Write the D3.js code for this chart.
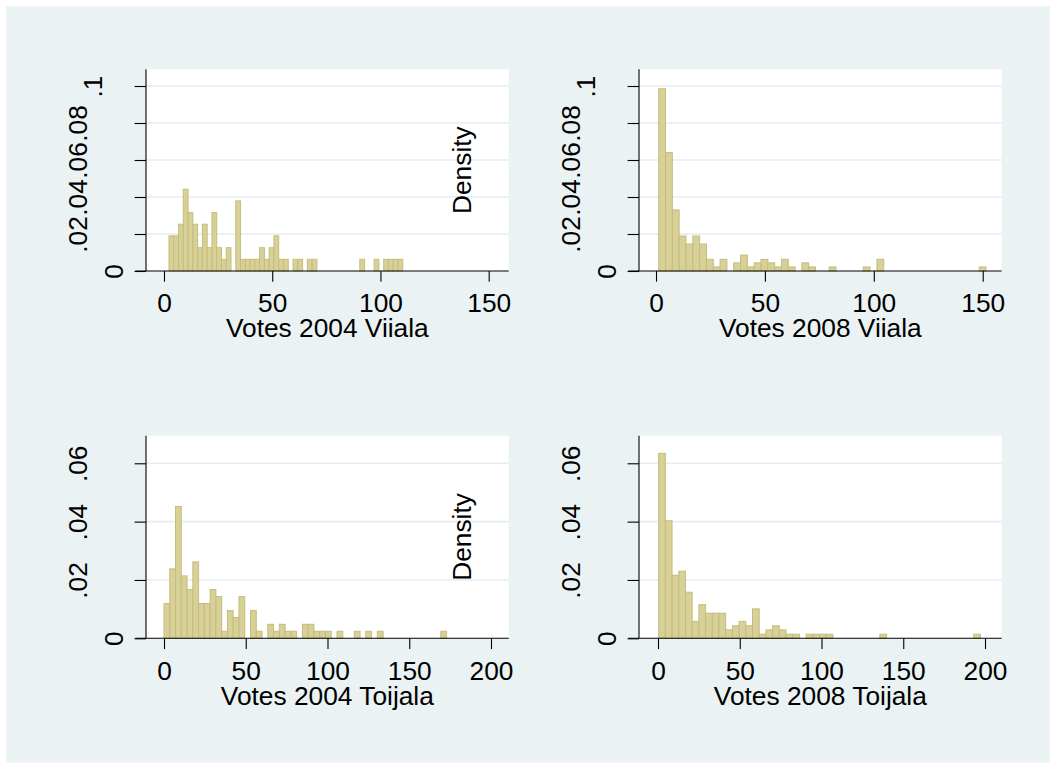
<!DOCTYPE html>
<html>
<head>
<meta charset="utf-8">
<script src="https://cdnjs.cloudflare.com/ajax/libs/d3/7.8.5/d3.min.js"></script>
<style>
  body { margin: 0; background: #ffffff; }
  text { font-family: "Liberation Sans", Arial, sans-serif; }
</style>
</head>
<body>
<div id="chart"></div>
<script>
// Histograms of votes per candidate, Viiala and Toijala, 2004 and 2008

// tick values and their labels
var xTicksViiala = [0, 50, 100, 150];
var xTicksToijala = [0, 50, 100, 150, 200];
var yTicksViiala = [0, 0.02, 0.04, 0.06, 0.08, 0.1];
var yLabelsViiala = ["0", ".02", ".04", ".06", ".08", ".1"];
var yTicksToijala = [0, 0.02, 0.04, 0.06];
var yLabelsToijala = ["0", ".02", ".04", ".06"];

var xTitles = ["Votes 2004 Viiala", "Votes 2008 Viiala", "Votes 2004 Toijala", "Votes 2008 Toijala"];
var yTitle = "Density";

// bins: first lower edge, bin width, density of each bin
var binStart2004V = 2.31, binWidth2004V = 2.204;
var density2004V = [.019,.019,.0253,.0442,.0316,.0253,.0126,.0253,.0126,.0316,.0126,.0063,.0126,0,.0379,
  .0063,.0063,.0063,.0063,.0126,.0063,.0126,.019,.0063,.0063,0,.0063,.0063,0,.0063,.0063,
  0,0,0,0,0,0,0,0,0,.0063,0,0,.0063,0,.0063,.0063,.0063,.0063];

var binStart2008V = 1.24, binWidth2008V = 3.131;
var density2008V = [.0985,.064,.033,.0189,.0146,.0189,.0146,.0063,.0022,.0063,
  0,.0044,.0086,.0022,.0044,.0063,.0044,.0022,.0063,.0022,
  0,.0044,.0022,0,0,.0022,0,0,0,0,.0022,0,.0063,
  0,0,0,0,0,0,0,0,0,0,0,0,0,0,.0022];

var binStart2004T = 0, binWidth2004T = 3.527;
var density2004T = [.0119,.0238,.0452,.0214,.0167,.0262,.0119,.0119,.0167,.0143,.0024,.0095,.0071,.0143,0,
  .0095,.0024,0,.0048,.0024,.0048,.0024,.0024,0,.0048,.0048,.0024,.0024,.0024,0,.0024,0,0,.0024,0,.0024,0,.0024,
  0,0,0,0,0,0,0,0,0,0,.0024];

var binStart2008T = 0.4, binWidth2008T = 4.1;
var density2008T = [.0634,.0403,.0216,.023,.0158,.0058,.0115,.0086,.0086,.0086,.0029,.0043,.0058,.0043,.0101,
  .0014,.0029,.0043,.0029,.0014,.0014,0,.0014,.0014,.0014,.0014,
  0,0,0,0,0,0,0,.0014,0,0,0,0,0,0,0,0,0,0,0,0,0,.0014];

var svgWidth = 1056;
var svgHeight = 769;
var fontSize = 26.3;

var svg = d3.select("#chart")
  .append("svg")
  .attr("width", svgWidth)
  .attr("height", svgHeight);

svg.append("rect")
  .attr("x", 6)
  .attr("y", 6.5)
  .attr("width", 1044)
  .attr("height", 756)
  .attr("fill", "#eaf2f3");

// the y title of a left-hand panel falls off the page, only the right-hand ones show
var panels = [
  { left: 146, right: 508.7, top: 69.3, bottom: 271, xDomain: [-8.31, 159.24], yMax: 0.10903,
    xTicks: xTicksViiala, yTicks: yTicksViiala, yLabels: yLabelsViiala, showYTitle: false,
    start: binStart2004V, width: binWidth2004V, dens: density2004V, title: xTitles[0] },
  { left: 639, right: 1001.7, top: 69.3, bottom: 271, xDomain: [-7.81, 158.72], yMax: 0.10903,
    xTicks: xTicksViiala, yTicks: yTicksViiala, yLabels: yLabelsViiala, showYTitle: true,
    start: binStart2008V, width: binWidth2008V, dens: density2008V, title: xTitles[1] },
  { left: 146, right: 508.7, top: 435.7, bottom: 638.3, xDomain: [-11.01, 210.83], yMax: 0.06946,
    xTicks: xTicksToijala, yTicks: yTicksToijala, yLabels: yLabelsToijala, showYTitle: false,
    start: binStart2004T, width: binWidth2004T, dens: density2004T, title: xTitles[2] },
  { left: 639, right: 1001.7, top: 435.7, bottom: 638.3, xDomain: [-11.62, 210.21], yMax: 0.06946,
    xTicks: xTicksToijala, yTicks: yTicksToijala, yLabels: yLabelsToijala, showYTitle: true,
    start: binStart2008T, width: binWidth2008T, dens: density2008T, title: xTitles[3] }
];

// rotated y labels sit further out the longer they are
var labelOffset = { 1: 22.7, 2: 44.3, 3: 59.3 };

panels.forEach(function(p) {
  var xScale = d3.scaleLinear().domain(p.xDomain).range([p.left, p.right]);
  var yScale = d3.scaleLinear().domain([0, p.yMax]).range([p.bottom, p.top]);

  var g = svg.append("g");

  g.append("rect")
    .attr("x", p.left)
    .attr("y", p.top)
    .attr("width", p.right - p.left)
    .attr("height", p.bottom - p.top)
    .attr("fill", "#ffffff");

  // grid lines
  g.append("g")
    .selectAll("line")
    .data(p.yTicks.filter(function(t) { return t > 0; }))
    .enter()
    .append("line")
    .attr("x1", p.left)
    .attr("x2", p.right)
    .attr("y1", function(d) { return yScale(d); })
    .attr("y2", function(d) { return yScale(d); })
    .attr("stroke", "#e4edf0")
    .attr("stroke-width", 1.6);

  var bins = p.dens.map(function(d, i) {
    return { x0: p.start + i * p.width, x1: p.start + (i + 1) * p.width, d: d };
  }).filter(function(b) { return b.d > 0; });

  g.append("g")
    .selectAll("rect")
    .data(bins)
    .enter()
    .append("rect")
    .attr("x", function(b) { return xScale(b.x0); })
    .attr("width", function(b) { return xScale(b.x1) - xScale(b.x0); })
    .attr("y", function(b) { return yScale(b.d); })
    .attr("height", function(b) { return yScale(0) - yScale(b.d); })
    .attr("fill", "#d7d098")
    .attr("stroke", "#c6bd7a")
    .attr("stroke-width", 1);

  // axes
  var bottomAxis = d3.axisBottom(xScale)
    .tickValues(p.xTicks)
    .tickFormat(d3.format("d"))
    .tickSize(10.7)
    .tickSizeOuter(0);

  var xAxis = g.append("g")
    .attr("transform", `translate(0, ${p.bottom})`)
    .call(bottomAxis);
  xAxis.select(".domain").remove();
  xAxis.selectAll("line").attr("stroke", "#000").attr("stroke-width", 1.1);
  xAxis.selectAll("text")
    .attr("y", 41.3)
    .attr("dy", null)
    .attr("fill", "#000")
    .style("font-size", fontSize + "px")
    .style("font-family", '"Liberation Sans", Arial, sans-serif');

  var leftAxis = d3.axisLeft(yScale)
    .tickValues(p.yTicks)
    .tickFormat(function(d, i) { return p.yLabels[i]; })
    .tickSize(11.4)
    .tickSizeOuter(0);

  var yAxis = g.append("g")
    .attr("transform", `translate(${p.left}, 0)`)
    .call(leftAxis);
  yAxis.select(".domain").remove();
  yAxis.selectAll("line").attr("stroke", "#000").attr("stroke-width", 1.1);
  yAxis.selectAll("text")
    .attr("x", null)
    .attr("dy", null)
    .attr("text-anchor", "middle")
    .attr("transform", function(d, i) {
      return `translate(${-labelOffset[p.yLabels[i].length]}, 0) rotate(-90)`;
    })
    .attr("fill", "#000")
    .style("font-size", fontSize + "px")
    .style("font-family", '"Liberation Sans", Arial, sans-serif');

  g.append("line")
    .attr("x1", p.left - 10.7)
    .attr("x2", p.right)
    .attr("y1", p.bottom)
    .attr("y2", p.bottom)
    .attr("stroke", "#000")
    .attr("stroke-width", 1.1);

  g.append("line")
    .attr("x1", p.left)
    .attr("x2", p.left)
    .attr("y1", p.top)
    .attr("y2", p.bottom)
    .attr("stroke", "#000")
    .attr("stroke-width", 1.1);

  g.append("text")
    .attr("x", (p.left + p.right) / 2)
    .attr("y", p.bottom + 66.3)
    .attr("text-anchor", "middle")
    .style("font-size", fontSize + "px")
    .text(p.title);

  if (p.showYTitle) {
    g.append("text")
      .attr("transform", `translate(${p.left - 167.7}, ${(p.top + p.bottom) / 2}) rotate(-90)`)
      .attr("text-anchor", "middle")
      .style("font-size", fontSize + "px")
      .text(yTitle);
  }
});
</script>
</body>
</html>
